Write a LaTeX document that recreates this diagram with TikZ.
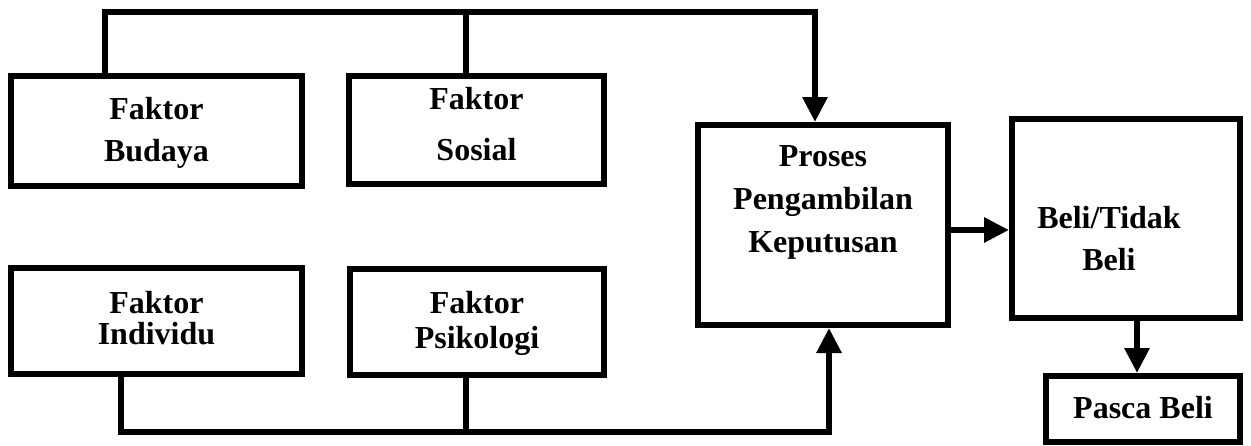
\documentclass[tikz,border=0pt]{standalone}
\usepackage{fontspec}
\setmainfont{Liberation Serif}
\usetikzlibrary{arrows.meta}

\begin{document}
\begin{tikzpicture}[x=1pt, y=-1pt,
kotak/.style={rectangle, draw=black, line width=6pt, fill=white, inner sep=0pt},
teks/.style={font=\bfseries\fontsize{32}{42}\selectfont, align=center, inner sep=0pt},
garis/.style={draw=black, line width=6pt},
panah/.style={-{Triangle[length=25pt, width=24pt]}},]

	\useasboundingbox (0,0) rectangle (1251,445);

	\node (budaya) [kotak, minimum width=291pt, minimum height=110pt, label={[teks, name=tbudaya, yshift=-2.3pt]center:Faktor\\Budaya}] at (156.5,131) {};
	\node (sosial) [kotak, minimum width=255pt, minimum height=108pt, label={[teks, name=tsosial, yshift=5.8pt]center:Faktor\\[8.5pt]Sosial}] at (476.5,130) {};
	\node (individu) [kotak, minimum width=291pt, minimum height=106pt, label={[teks, name=tindividu, yshift=3.1pt]center:Faktor\\[-11.3pt]Individu}] at (156.5,321) {};
	\node (psikologi) [kotak, minimum width=254pt, minimum height=106pt, label={[teks, name=tpsikologi, yshift=-1.2pt]center:Faktor\\[-7pt]Psikologi}] at (477,322) {};

	\node (proses) [kotak, minimum width=250pt, minimum height=200pt, label={[teks, name=tproses, yshift=22.6pt]center:Proses\\[1pt]Pengambilan\\[1pt]Keputusan}] at (823,225) {};
	\node (beli) [kotak, minimum width=228pt, minimum height=199pt, label={[teks, name=tbeli, align=left, xshift=-17pt, yshift=-20.5pt]center:Beli/Tidak\\\hspace*{45pt}Beli}] at (1126,218.5) {};
	\node (pasca) [kotak, minimum width=194pt, minimum height=66pt, label={[teks, name=tpasca, yshift=1.5pt]center:Pasca Beli}] at (1143,409) {};

	\coordinate (ujungatas) at (815,12);
	\coordinate (ujungbawah) at (829,432);

	% faktor luar ke proses
	\draw[garis, panah] ([xshift=-52pt]budaya.north) |- (ujungatas) -- (ujungatas |- proses.north);
	\draw[garis] ([xshift=-10.5pt]sosial.north) -- ([xshift=-10.5pt]sosial.north |- ujungatas);
	\draw[garis, panah] ([xshift=-35.5pt]individu.south) |- (ujungbawah) -- (ujungbawah |- proses.south);
	\draw[garis] ([xshift=-11pt]psikologi.south) -- ([xshift=-11pt]psikologi.south |- ujungbawah);

	% keputusan
	\draw[garis, panah] ([yshift=-5pt]proses.east) -- ([yshift=-5pt]proses.east -| beli.west);
	\draw[garis, panah] ([xshift=11pt]beli.south) -- ([xshift=11pt]beli.south |- pasca.north);

\end{tikzpicture}
\end{document}
